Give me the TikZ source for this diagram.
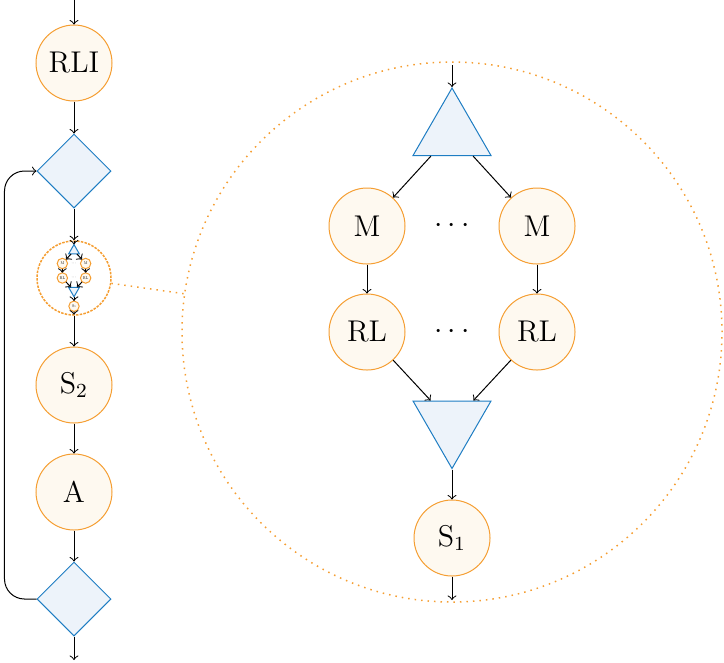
\documentclass[tikz,border=0pt]{standalone}
\usetikzlibrary{shapes.geometric}

\definecolor{procline}{RGB}{245,158,50}
\definecolor{procfill}{RGB}{254,249,240}
\definecolor{gateline}{RGB}{30,125,195}
\definecolor{gatefill}{RGB}{237,243,250}

% the parallel block, drawn around (0,0); #1 prefixes the node names
\newcommand{\subnet}[1]{%
  \coordinate (#1in) at (0,267);
  \node[tri] (#1split) at (0,199) {};
  \node[proc] (#1m1) at (-85,106) {M};
  \node (#1dm) at (0,106) {$\cdots$};
  \node[proc] (#1m2) at (85,106) {M};
  \node[proc] (#1rl1) at (-85,0) {RL};
  \node (#1drl) at (0,0) {$\cdots$};
  \node[proc] (#1rl2) at (85,0) {RL};
  \node[tri, shape border rotate=180] (#1join) at (0,-91.5) {};
  \node[proc] (#1s) at (0,-206) {S$_1$};
  \coordinate (#1out) at (0,-268);
  \draw[->] (#1in) -- (#1split);
  \draw[->] (#1split) -- (#1m1);
  \draw[->] (#1split) -- (#1m2);
  \draw[->] (#1m1) -- (#1rl1);
  \draw[->] (#1m2) -- (#1rl2);
  \draw[->] (#1rl1) -- (#1join);
  \draw[->] (#1rl2) -- (#1join);
  \draw[->] (#1join) -- (#1s);
  \draw[->] (#1s) -- (#1out);
}

\begin{document}
\begin{tikzpicture}[x=0.4pt, y=0.4pt, font=\large, >=to,
  proc/.style={circle, draw=procline, fill=procfill, minimum size=30.4pt, inner sep=0pt},
  gate/.style={diamond, draw=gateline, fill=gatefill, minimum width=29.6pt, minimum height=29.6pt, inner sep=0pt},
  tri/.style={regular polygon, regular polygon sides=3, draw=gateline, fill=gatefill, minimum size=36pt, inner sep=0pt},
  lens/.style={circle, draw=procline, line width=0.6pt, dash pattern=on 1pt off 0.5pt, minimum size=29.6pt, inner sep=0pt},
  view/.style={circle, draw=procline, line width=0.6pt, dotted, minimum size=216pt, inner sep=0pt}]
\useasboundingbox (0,0) rectangle (724,-662);

% main chain
\coordinate (top) at (74,0);
\node[proc] (rli) at (74,-63) {RLI};
\node[gate] (loop) at (74,-171) {};
\node[lens] (zs) at (74,-278) {};
\node[proc] (s2) at (74,-385) {S$_2$};
\node[proc] (a) at (74,-492) {A};
\node[gate] (test) at (74,-599) {};
\coordinate (bot) at (74,-660);

\draw[->] (top) -- (rli);
\draw[->] (rli) -- (loop);
\draw[->] (loop) -- (zs);
\draw[->] (zs) -- (s2);
\draw[->] (s2) -- (a);
\draw[->] (a) -- (test);
\draw[->] (test) -- (bot);
\draw[->, rounded corners=8pt] (test.west) -- ++(-32,0) |- (loop.west);

% magnified view
\node[view] (zb) at (452,-332) {};
\draw[procline, line width=0.6pt, dotted] (zs) -- (zb);

\begin{scope}[shift={(452,-332)}]
  \subnet{b}
\end{scope}
\begin{scope}[shift={(74,-278)}, scale=0.137, transform shape]
  \subnet{s}
\end{scope}
\end{tikzpicture}
\end{document}
